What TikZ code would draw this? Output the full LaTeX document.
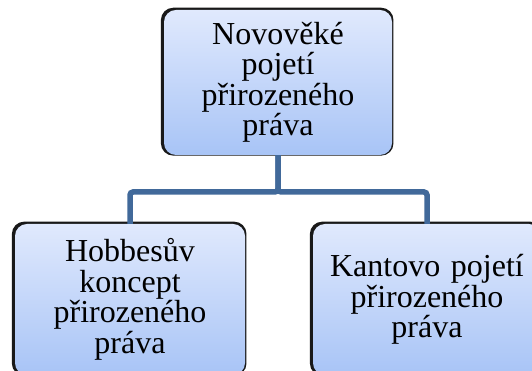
\documentclass[tikz,border=0pt]{standalone}
\usepackage{fontspec}
\setmainfont{Liberation Serif}
\usetikzlibrary{shadows}
\definecolor{boxtop}{HTML}{E0E9FD}
\definecolor{boxbot}{HTML}{A8C4F6}
\definecolor{linkblue}{HTML}{41699A}
\tikzset{
  orgbox/.style={rounded corners=12pt, top color=boxtop, bottom color=boxbot,
    minimum height=#1, text width=215pt, align=center, inner sep=0pt,
    font=\fontsize{32pt}{30.5pt}\selectfont,
    general shadow={fill=black!90, shadow xshift=-0.8pt, shadow yshift=0.8pt,
      shadow scale=1.02}},
  link/.style={draw=linkblue, line width=5.5pt, rounded corners=3pt}
}
\begin{document}
\begin{tikzpicture}[x=1pt,y=1pt]
\useasboundingbox (0,0) rectangle (532,371);
\clip (0,0) rectangle (532,371);
\fill[white] (0,0) rectangle (532,371);
\node[orgbox=145pt, minimum width=228pt] (top) at (278,288.5) {Novověké\\pojetí\\přirozeného\\práva};
\node[orgbox=151pt, minimum width=230pt] (left) at (130,71.5) {Hobbesův\\koncept\\přirozeného\\práva};
\node[orgbox=151pt, minimum width=228pt] (right) at (427,71.5) {Kantovo pojetí\\přirozeného\\práva};
\coordinate (bar) at (0,179);
\draw[link] (top.south) -- (top.south |- bar) -| (left.north);
\draw[link] (top.south) -- (top.south |- bar) -| (right.north);
\end{tikzpicture}
\end{document}
